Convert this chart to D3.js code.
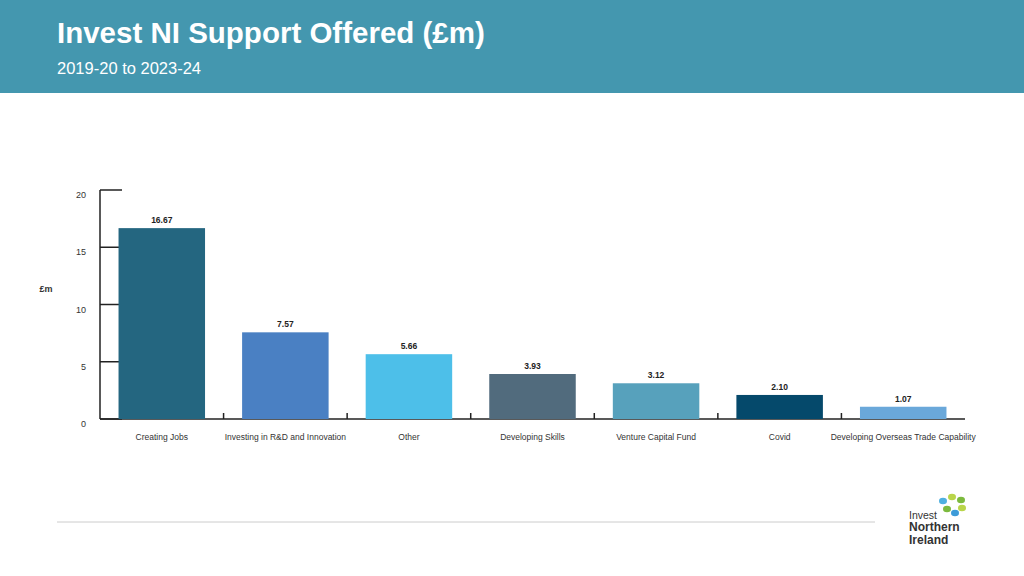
<!DOCTYPE html><html><head><meta charset="utf-8"><script src="https://cdn.jsdelivr.net/npm/d3@7"></script>
<style>body{margin:0;background:#fff}svg{display:block;font-family:"Liberation Sans",Arial,sans-serif}</style></head><body>
<svg id="c" width="1024" height="576"></svg>
<script>
const categories=["Creating Jobs","Investing in R&D and Innovation","Other","Developing Skills","Venture Capital Fund","Covid","Developing Overseas Trade Capability"];
const values=[16.67,7.57,5.66,3.93,3.12,2.10,1.07];
const colors=["#246680","#4a80c3","#4dbfe9","#516b7d","#57a1bc","#05496b","#6aa8da"];
const yTicks=[0,5,10,15,20];
const svg=d3.select("#c");
svg.append("rect").attr("width",1024).attr("height",93).attr("fill","#4497af");
svg.append("text").attr("x",57).attr("y",43).attr("fill","#fff").attr("font-size",29.5).attr("font-weight","bold").text("Invest NI Support Offered (£m)");
svg.append("text").attr("x",57).attr("y",74).attr("fill","#fff").attr("font-size",16.5).text("2019-20 to 2023-24");
const x=d3.scaleBand().domain(categories).range([100,965]).paddingInner(0.3).paddingOuter(0.15);
const y=d3.scaleLinear().domain([0,20]).range([419,190]);
const xb=d3.scaleBand().domain(categories).range([100,965]);
const g=svg.append("g");
g.append("line").attr("x1",100).attr("x2",100).attr("y1",y(20)).attr("y2",y(0)).attr("stroke","#222").attr("stroke-width",1.5);
g.append("line").attr("x1",100).attr("x2",965).attr("y1",y(0)).attr("y2",y(0)).attr("stroke","#222").attr("stroke-width",1.5);
g.selectAll(".yt").data(yTicks).join("line").attr("x1",100).attr("x2",122).attr("y1",d=>y(d)).attr("y2",d=>y(d)).attr("stroke","#222").attr("stroke-width",1.5);
g.selectAll(".yl").data(yTicks).join("text").attr("x",86).attr("y",d=>y(d)+8).attr("text-anchor","end").attr("font-size",9).attr("fill","#333").text(d=>d);
g.selectAll(".xt").data(categories.slice(1)).join("line").attr("x1",d=>xb(d)).attr("x2",d=>xb(d)).attr("y1",y(0)).attr("y2",y(0)-6).attr("stroke","#222").attr("stroke-width",1.5);
svg.append("text").attr("x",46).attr("y",292).attr("text-anchor","middle").attr("font-size",9).attr("font-weight","bold").attr("fill","#333").text("£m");
g.selectAll(".bar").data(values).join("rect").attr("x",(d,i)=>x(categories[i])).attr("width",x.bandwidth()).attr("y",d=>y(d)).attr("height",d=>y(0)-y(d)).attr("fill",(d,i)=>colors[i]);
g.selectAll(".vl").data(values).join("text").attr("x",(d,i)=>x(categories[i])+x.bandwidth()/2).attr("y",d=>y(d)-5).attr("text-anchor","middle").attr("font-size",8.5).attr("font-weight","bold").attr("fill","#222").text(d=>d.toFixed(2));
g.selectAll(".cl").data(categories).join("text").attr("x",d=>x(d)+x.bandwidth()/2).attr("y",440).attr("text-anchor","middle").attr("font-size",8.5).attr("fill","#333").text(d=>d);
svg.append("line").attr("x1",57).attr("x2",875).attr("y1",522).attr("y2",522).attr("stroke","#ccc");
const lg=svg.append("g");
lg.append("text").attr("x",909).attr("y",519).attr("font-size",10.5).attr("fill","#333").text("Invest");
lg.append("text").attr("x",909).attr("y",531).attr("font-size",12).attr("font-weight","bold").attr("fill","#333").text("Northern");
lg.append("text").attr("x",909).attr("y",544).attr("font-size",12).attr("font-weight","bold").attr("fill","#333").text("Ireland");
[[952,497,"#b9d54a"],[961,500,"#7cba3e"],[943,501,"#4fb0e0"],[947,509,"#7cba3e"],[955,513,"#3d9bd8"],[962,508,"#b9d54a"]].forEach(p=>lg.append("ellipse").attr("cx",p[0]).attr("cy",p[1]).attr("rx",4).attr("ry",3.3).attr("fill",p[2]));
</script></body></html>
